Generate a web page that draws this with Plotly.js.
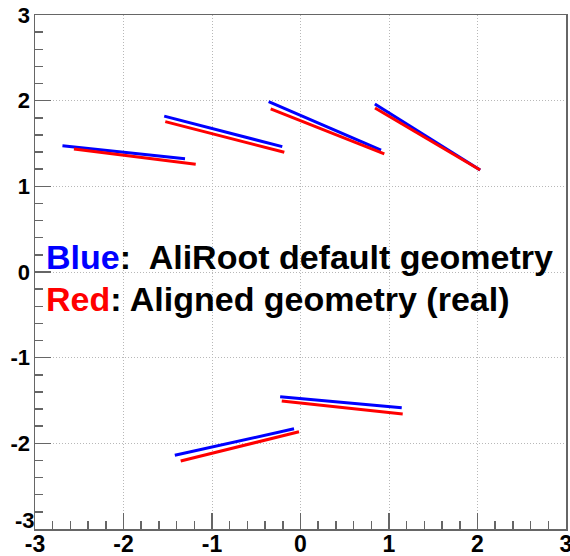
<!DOCTYPE html>
<html>
<head>
<meta charset="utf-8">
<script src="https://cdn.plot.ly/plotly-3.0.1.min.js"></script>
<style>html,body{margin:0;padding:0;background:#fff;}#chart{width:570px;height:556px;}</style>
</head>
<body>
<div id="chart"></div>
<script>
// Segment endpoints (default geometry = blue, aligned geometry = red)
const blueStartX = [-2.69, -1.54, -0.36, 0.84, -1.42, -0.23];
const blueStartY = [ 1.475, 1.82, 1.99, 1.96, -2.14, -1.456];
const blueEndX   = [-1.305, -0.206, 0.91, 2.03, -0.073, 1.144];
const blueEndY   = [ 1.323, 1.463, 1.424, 1.19, -1.83, -1.584];

const redStartX = [-2.56, -1.528, -0.337, 0.842, -1.354, -0.212];
const redStartY = [ 1.436, 1.755, 1.903, 1.915, -2.207, -1.506];
const redEndX   = [-1.184, -0.183, 0.947, 2.03, -0.017, 1.155];
const redEndY   = [ 1.257, 1.398, 1.378, 1.19, -1.865, -1.658];

const tickVals = [-3, -2, -1, 0, 1, 2, 3];
const tickText = ['-3', '-2', '-1', '0', '1', '2', '3'];
// y label at -3 is drawn slightly raised (as in the original) to avoid the x label
const yTickText = tickText.map((t, i) => i === 0 ? '' : t);

function segTrace(sx, sy, ex, ey, color) {
  const x = [], y = [];
  for (let i = 0; i < sx.length; i++) {
    x.push(sx[i], ex[i], null);
    y.push(sy[i], ey[i], null);
  }
  return {x: x, y: y, type: 'scatter', mode: 'lines',
          line: {color: color, width: 3}, hoverinfo: 'skip', showlegend: false};
}

const traces = [
  segTrace(blueStartX, blueStartY, blueEndX, blueEndY, '#0000ff'),
  segTrace(redStartX, redStartY, redEndX, redEndY, '#ff0000')
];

const axisCommon = {
  range: [-3, 3], tickvals: tickVals, ticktext: tickText,
  showline: true, mirror: true, linecolor: '#666', linewidth: 1.5,
  ticks: 'inside', ticklen: 16, tickcolor: '#666', tickwidth: 1.5,
  showgrid: true, gridcolor: '#b8b8b8', gridwidth: 1, griddash: '1px,2px',
  zeroline: false, ticklabeloverflow: 'allow',
  minor: {dtick: 0.2, ticks: 'inside', ticklen: 8, tickcolor: '#666', tickwidth: 1.5, showgrid: false}
};

const annFont = {family: 'Liberation Sans, Arial, sans-serif', size: 34, weight: 'bold', color: '#000'};
const yTickFont = {family: 'Liberation Sans, Arial, sans-serif', size: 22, weight: 'bold', color: '#000'};

const layout = {
  width: 570, height: 556,
  margin: {l: 35, r: 4, t: 15, b: 27},
  paper_bgcolor: '#fff', plot_bgcolor: '#fff',
  xaxis: Object.assign({}, axisCommon, {ticklabelstandoff: -6,
    tickfont: {family: 'Liberation Sans, Arial, sans-serif', size: 23, weight: 'bold', color: '#000'}}),
  yaxis: Object.assign({}, axisCommon, {ticklabelstandoff: -1, ticktext: yTickText, tickfont: yTickFont}),
  annotations: [
    {xref: 'x', yref: 'y', x: -2.9, y: 0.175, xanchor: 'left', yanchor: 'middle', showarrow: false,
     text: '<span style="color:#0000ff">Blue</span>:  AliRoot default geometry', font: annFont},
    {xref: 'x', yref: 'y', x: -2.9, y: -0.32, xanchor: 'left', yanchor: 'middle', showarrow: false,
     text: '<span style="color:#ff0000">Red</span>: Aligned geometry (real)', font: annFont},
    {xref: 'paper', yref: 'y', x: 0, y: tickVals[0], xanchor: 'right', yanchor: 'middle', showarrow: false,
     xshift: 2, yshift: 9, text: tickText[0], font: yTickFont}
  ]
};

Plotly.newPlot('chart', traces, layout, {displayModeBar: false, staticPlot: true});
</script>
</body>
</html>
